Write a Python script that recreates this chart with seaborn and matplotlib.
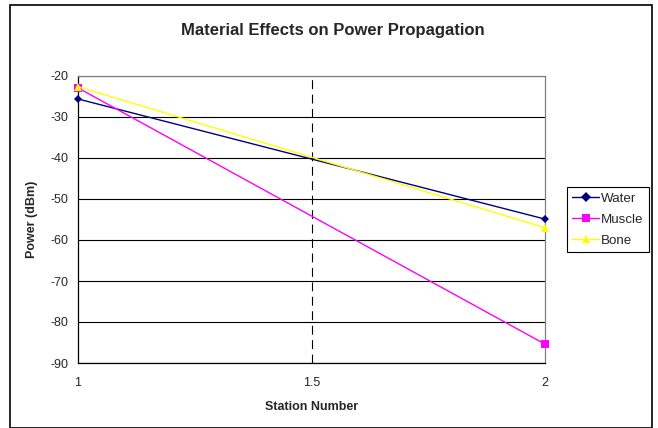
import matplotlib
matplotlib.use("Agg")
import matplotlib.pyplot as plt
import seaborn as sns
import pandas as pd

stations = [1, 2]
water = [-25.6, -54.9]
muscle = [-22.9, -85.4]
bone = [-22.6, -57.0]
series_names = ["Water", "Muscle", "Bone"]
yticks = [-90, -80, -70, -60, -50, -40, -30, -20]
xticks = [1, 1.5, 2]

df = pd.DataFrame({
    "Station": stations * 3,
    "Power": water + muscle + bone,
    "Material": [n for n in series_names for _ in stations],
})

sns.set_style("white")
plt.rcParams["font.family"] = ["Liberation Sans", "DejaVu Sans"]
plt.rcParams["axes.unicode_minus"] = False

fig = plt.figure(figsize=(6.58, 4.28), dpi=100)
ax = fig.add_axes([78/658, 1-363/428, (545-78)/658, (363-76)/428])

palette = {"Water": "#000080", "Muscle": "#FF00FF", "Bone": "#FFFF00"}
markers = {"Water": "D", "Muscle": "s", "Bone": "^"}
sns.lineplot(data=df, x="Station", y="Power", hue="Material", style="Material",
             palette=palette, markers=markers, dashes=False, markersize=5.5,
             markeredgewidth=0, linewidth=1, ax=ax, legend=True, zorder=3,
             clip_on=False)
for ln in ax.lines:
    if ln.get_marker() == "D":
        ln.set_markersize(4.5)

ax.set_xlim(1, 2)
ax.set_ylim(-90, -20)
ax.set_xticks(xticks)
ax.set_xticklabels(["1", "1.5", "2"])
ax.set_yticks(yticks)
ax.tick_params(axis="both", direction="out", length=4, width=0.8, labelsize=9, color="black", pad=3)
ax.tick_params(axis="x", pad=6)
ax.yaxis.grid(True, color="black", linewidth=0.8)
ax.axvline(1.5, color="black", linewidth=0.8, dashes=(8, 5), zorder=1)
for s in ["left", "bottom"]:
    ax.spines[s].set_color("black")
    ax.spines[s].set_linewidth(0.9)
for s in ["top", "right"]:
    ax.spines[s].set_color("#808080")
    ax.spines[s].set_linewidth(0.9)

ax.set_xlabel("Station Number", fontsize=9, fontweight="bold", labelpad=9)
ax.set_ylabel("Power (dBm)", fontsize=9, fontweight="bold", labelpad=9)
fig.text(333/658, 1-30/428, "Material Effects on Power Propagation", fontsize=12,
         fontweight="bold", ha="center", va="center")

handles, labels = ax.get_legend_handles_labels()
leg = ax.legend(handles, labels, loc="center left", bbox_to_anchor=(567/658, 1-219.5/428),
          bbox_transform=fig.transFigure, fontsize=9.6, frameon=True, fancybox=False,
          edgecolor="black", framealpha=1, borderpad=0.4, labelspacing=0.65,
          handlelength=2.0, handletextpad=0.15, borderaxespad=0, markerscale=1.0)
leg.get_frame().set_linewidth(0.8)
for h in leg.legend_handles:
    h.set_markersize(6 if h.get_marker() != "D" else 5)

border = plt.Rectangle((10/658, 0.0), (652-10)/658, (428-5)/428 - 0.0,
                       transform=fig.transFigure, fill=False, edgecolor="black",
                       linewidth=1.2)
fig.patches.append(border)

fig.savefig("out.png", dpi=100)
